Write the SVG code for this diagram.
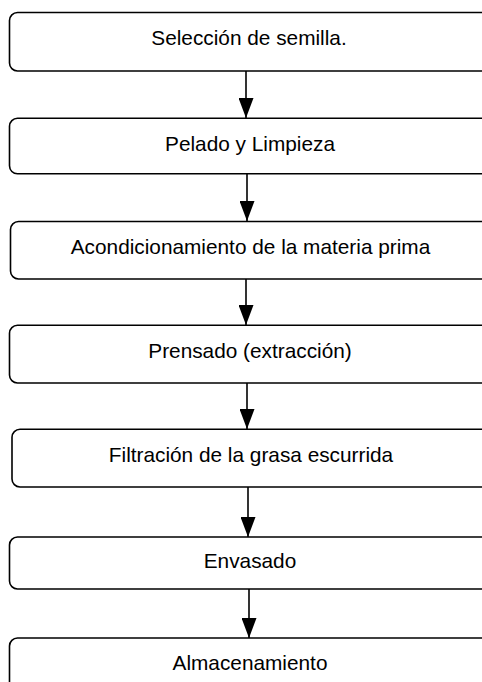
<svg xmlns="http://www.w3.org/2000/svg" width="482" height="682" viewBox="0 0 482 682">
<defs>
<style>
.box{fill:#fff;stroke:#000;stroke-width:1.6}
.lbl{font-family:"Liberation Sans",Arial,sans-serif;font-size:20.8px;fill:#000;text-anchor:middle}
.conn{stroke:#000;stroke-width:1.6;fill:none}
</style>
<marker id="ah" markerUnits="userSpaceOnUse" markerWidth="20" markerHeight="15" refX="20" refY="7.5" orient="auto" viewBox="0 0 20 15">
<path d="M0,0 L20,7.5 L0,15 Z" fill="#000"/>
</marker>
</defs>
<rect width="482" height="682" fill="#fff"/>
<g id="connectors">
<line class="conn" x1="246" y1="71" x2="246" y2="118" marker-end="url(#ah)"/>
<line class="conn" x1="247" y1="174" x2="247" y2="221" marker-end="url(#ah)"/>
<line class="conn" x1="246" y1="279" x2="246" y2="325" marker-end="url(#ah)"/>
<line class="conn" x1="247" y1="383" x2="247" y2="429" marker-end="url(#ah)"/>
<line class="conn" x1="248" y1="487" x2="248" y2="537" marker-end="url(#ah)"/>
<line class="conn" x1="249" y1="589" x2="249" y2="638" marker-end="url(#ah)"/>
</g>
<g id="n1"><rect class="box" x="9.5" y="12.5" width="485" height="58.5" rx="8"/><text class="lbl" x="249" y="44.5">Selección de semilla.</text></g>
<g id="n2"><rect class="box" x="9.5" y="118.3" width="485" height="55.5" rx="8"/><text class="lbl" x="250" y="151">Pelado y Limpieza</text></g>
<g id="n3"><rect class="box" x="10.5" y="221.5" width="485" height="57.5" rx="8"/><text class="lbl" x="250.5" y="254.3">Acondicionamiento de la materia prima</text></g>
<g id="n4"><rect class="box" x="9.5" y="325.3" width="485" height="57.7" rx="8"/><text class="lbl" x="250" y="358">Prensado (extracción)</text></g>
<g id="n5"><rect class="box" x="12" y="429.3" width="485" height="57.7" rx="8"/><text class="lbl" x="251" y="462">Filtración de la grasa escurrida</text></g>
<g id="n6"><rect class="box" x="9.5" y="537" width="485" height="52" rx="8"/><text class="lbl" x="250" y="568">Envasado</text></g>
<g id="n7"><rect class="box" x="9.5" y="638" width="485" height="60" rx="8"/><text class="lbl" x="250" y="670">Almacenamiento</text></g>
</svg>
